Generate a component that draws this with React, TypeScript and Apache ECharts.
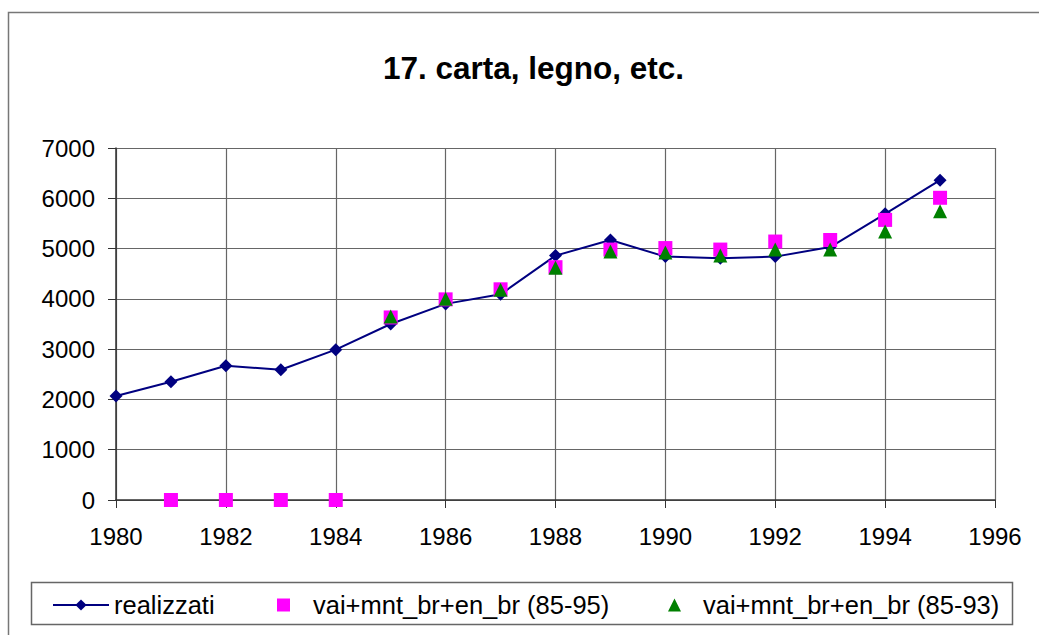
import React, { useEffect, useRef } from "react";
import * as echarts from "echarts";

const years = [1980, 1981, 1982, 1983, 1984, 1985, 1986, 1987, 1988, 1989, 1990, 1991, 1992, 1993, 1994, 1995];
const realizzati = [2070, 2350, 2670, 2590, 2990, 3500, 3900, 4090, 4860, 5170, 4840, 4810, 4840, 5030, 5690, 6360];
const scen95 = [null, 0, 0, 0, 0, 3630, 3990, 4190, 4630, 4980, 5010, 4980, 5140, 5170, 5570, 6010];
const scen93 = [null, null, null, null, null, 3650, 4000, 4180, 4620, 4940, 4920, 4860, 4980, 4980, 5340, 5740];
const seriesNames = ["realizzati", "vai+mnt_br+en_br (85-95)", "vai+mnt_br+en_br (85-93)"];
const titleText = "17. carta, legno, etc.";

const FONT = "'Liberation Sans', Arial, sans-serif";

function pairs(vals: (number | null)[]) {
  return years.map((y, i) => [y, vals[i]]).filter((p) => p[1] !== null);
}

export default function App() {
  const ref = useRef<HTMLDivElement>(null);
  useEffect(() => {
    if (!ref.current) return;
    const chart = echarts.init(ref.current, null, { renderer: "svg" });
    const legendText = { fontFamily: FONT, fontSize: 25.5, color: "#000" };
    chart.setOption({
      animation: false,
      backgroundColor: "#fff",
      title: {
        text: titleText,
        left: 378,
        top: 47,
        textStyle: { fontFamily: FONT, fontSize: 31.5, fontWeight: "bold", color: "#000" },
      },
      grid: { left: 116, right: 44, top: 148, bottom: 135, containLabel: false },
      xAxis: {
        type: "value",
        min: 1980,
        max: 1996,
        interval: 2,
        axisLine: { show: true, lineStyle: { color: "#333", width: 1.5 } },
        axisTick: { show: true, length: 8, lineStyle: { color: "#333" } },
        axisLabel: {
          fontFamily: FONT,
          fontSize: 24,
          color: "#000",
          margin: 24,
          formatter: (v: number) => String(v),
        },
        splitLine: { show: true, lineStyle: { color: "#666", width: 1.2 } },
      },
      yAxis: {
        type: "value",
        min: 0,
        max: 7000,
        interval: 1000,
        axisLine: { show: true, onZero: false, lineStyle: { color: "#333", width: 1.5 } },
        axisTick: { show: true, length: 8, lineStyle: { color: "#333" } },
        axisLabel: {
          fontFamily: FONT,
          fontSize: 24,
          color: "#000",
          margin: 21,
          formatter: (v: number) => String(v),
        },
        splitLine: { show: true, lineStyle: { color: "#666", width: 1.2 } },
      },
      legend: [
        {
          data: [seriesNames[0]],
          left: 47,
          top: 587,
          itemWidth: 56,
          itemHeight: 14,
          itemGap: 0,
          textStyle: legendText,
        },
        {
          data: [{ name: seriesNames[1], icon: "rect" }],
          left: 272,
          top: 587,
          itemWidth: 13,
          itemHeight: 13,
          textStyle: { ...legendText, padding: [0, 0, 0, 18] },
        },
        {
          data: [{ name: seriesNames[2], icon: "triangle" }],
          left: 663,
          top: 587,
          itemWidth: 13,
          itemHeight: 13,
          textStyle: { ...legendText, padding: [0, 0, 0, 17] },
        },
      ],
      graphic: [
        {
          type: "rect",
          shape: { x: 8.5, y: 12.5, width: 1100, height: 700 },
          style: { fill: "none", stroke: "#777", lineWidth: 1.5 },
          silent: true,
        },
        {
          type: "rect",
          shape: { x: 31.5, y: 582.5, width: 981, height: 42 },
          style: { fill: "none", stroke: "#666", lineWidth: 1.5 },
          silent: true,
        },
      ],
      series: [
        {
          name: seriesNames[0],
          type: "line",
          data: pairs(realizzati),
          symbol: "diamond",
          symbolSize: 13,
          itemStyle: { color: "#000080" },
          lineStyle: { color: "#000080", width: 2 },
          z: 2,
        },
        {
          name: seriesNames[1],
          type: "scatter",
          data: pairs(scen95),
          symbol: "rect",
          symbolSize: 14,
          itemStyle: { color: "#FF00FF", opacity: 1 },
          z: 3,
        },
        {
          name: seriesNames[2],
          type: "scatter",
          data: pairs(scen93),
          symbol: "triangle",
          symbolSize: 14,
          itemStyle: { color: "#008000", opacity: 1 },
          z: 4,
        },
      ],
    });
    return () => chart.dispose();
  }, []);
  return (
    <div
      ref={ref}
      style={{ position: "fixed", left: 0, top: 0, width: 1039, height: 635 }}
    />
  );
}
